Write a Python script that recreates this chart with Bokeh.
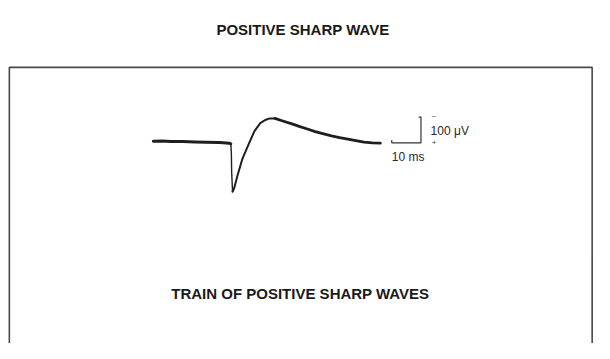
from bokeh.plotting import figure
from bokeh.models import Range1d
from bokeh.core.properties import value
from bokeh.embed import file_html
from bokeh.resources import INLINE

# Waveform: time (ms) and potential (microvolts, negative drawn upward)
time_ms = [0, 3, 6, 10, 14.3, 18, 22.7, 26, 26.5, 26.7, 26.8, 27.1,
           27.7, 28.8, 30.4, 32.7, 34.6, 36.6, 38.5, 39.9, 41.6, 44.3,
           47.7, 49.9, 52.7, 55.4, 58.3, 61, 63.7, 66.6, 69.3,
           72.1, 75, 77.7]
volt_uv = [-2.6, -3.5, -1.9, -1.5, 0, 1.5, 2.6, 4.8, 7.4, 44, 118, 193,
           178, 130, 68, 7, -42, -73, -86, -91, -91, -81,
           -69, -60, -50, -40, -31, -23, -17, -11, -5,
           1, 3.5, 5]

# Segments of the trace (index ranges) drawn with the pen weight seen
baseline_end = 8     # flat lead-in
spike_end = 12       # thin downward stroke
rise_end = 20        # rising limb

# Calibration bar
scale_x0 = 81.6
scale_ms = 10
scale_y0 = 3.7
scale_uv = 100

title_text = "POSITIVE SHARP WAVE"
lower_text = "TRAIN OF POSITIVE SHARP WAVES"
volt_label = "100 \u03bcV"
time_label = "10 ms"

p = figure(width=594, height=343, x_range=Range1d(-52.33, 151.0),
           y_range=Range1d(781.5, -548.1), toolbar_location=None,
           output_backend="svg", min_border=0)
p.axis.visible = False
p.grid.visible = False
p.outline_line_color = None
p.background_fill_color = "white"
p.border_fill_color = "white"

# Frame box (bottom runs off the page)
p.quad(left=[-49.3], right=[150.2], top=[-288.9], bottom=[900],
       fill_color=None, line_color="#4a4a4a", line_width=1.6)

# Waveform
ink = "#1e1e1e"
p.line(time_ms[:baseline_end + 1], volt_uv[:baseline_end + 1],
       line_color=ink, line_width=3, line_join="round", line_cap="round")
p.line(time_ms[baseline_end:spike_end + 1], volt_uv[baseline_end:spike_end + 1],
       line_color=ink, line_width=1.4, line_join="round", line_cap="round")
p.line(time_ms[spike_end - 1:rise_end + 1], volt_uv[spike_end - 1:rise_end + 1],
       line_color=ink, line_width=2.0, line_join="round", line_cap="round")
p.line(time_ms[rise_end:], volt_uv[rise_end:],
       line_color=ink, line_width=2.8, line_join="round", line_cap="round")

# Calibration bar
bx = [scale_x0, scale_x0, scale_x0 + scale_ms, scale_x0 + scale_ms,
      scale_x0 + scale_ms - 0.8]
by = [scale_y0 - 11, scale_y0, scale_y0, scale_y0 - scale_uv,
      scale_y0 - scale_uv]
p.line(bx, by, line_color="#333333", line_width=1.2)

font = value("Liberation Sans")
p.text(x=[51.2], y=[-435], text=[title_text], text_font=font,
       text_font_size="15px", text_font_style="bold", text_align="center",
       text_baseline="middle", text_color="#1a1a1a")
p.text(x=[50.3], y=[589], text=[lower_text], text_font=font,
       text_font_size="15px", text_font_style="bold", text_align="center",
       text_baseline="middle", text_color="#1a1a1a")
p.text(x=[94.9], y=[-44], text=[volt_label], text_font=font,
       text_font_size="12px", text_align="left", text_baseline="middle",
       text_color="#2a2a2a")
p.text(x=[scale_x0], y=[57.4], text=[time_label], text_font=font,
       text_font_size="12px", text_align="left", text_baseline="middle",
       text_color="#2a2a2a")
p.text(x=[95.3, 95.3], y=[-104, 2], text=["\u2013", "+"], text_font=font,
       text_font_size="8px", text_align="left", text_baseline="middle",
       text_color="#444444")

open("out.html", "w").write(file_html(p, INLINE))
